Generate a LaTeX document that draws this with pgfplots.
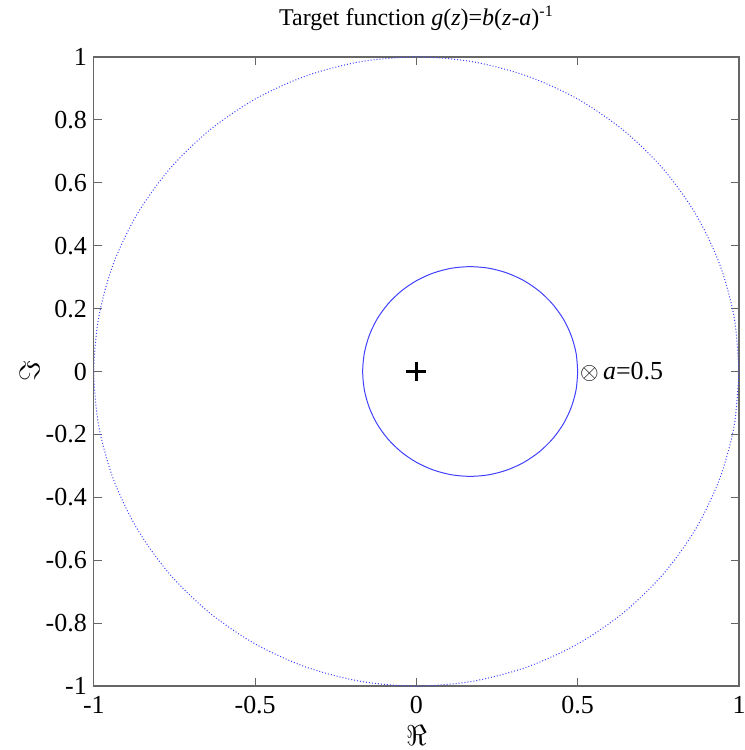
\documentclass[border=0pt]{standalone}
\usepackage{pgfplots}
\pgfplotsset{compat=1.18}
\usepackage{fontspec}
\setmainfont{Liberation Serif}
\begin{document}
\begin{tikzpicture}
\begin{axis}[
  scale only axis,
  width=323pt, height=315pt,
  xmin=-1, xmax=1, ymin=-1, ymax=1,
  xtick={-1,-0.5,0,0.5,1},
  ytick={-1,-0.8,-0.6,-0.4,-0.2,0,0.2,0.4,0.6,0.8,1},
  tick align=inside,
  tick pos=both,
  major tick length=4pt,
  axis line style={black!60, line width=0.6pt},
  tick style={black!60, line width=0.5pt},
  /pgf/number format/assume math mode=true,
  xticklabel={\pgfmathprintnumber{\tick}},
  yticklabel={\pgfmathprintnumber{\tick}},
  ticklabel style={font=\fontsize{13}{15}\selectfont},
  xticklabel style={yshift=-4pt, inner sep=1pt},
  title style={font=\fontsize{12}{14}\selectfont, at={(axis description cs:0.5,1)}, anchor=center, yshift=13.5pt},
  title={Target function \textit{g}(\textit{z})=\textit{b}(\textit{z}-\textit{a})\textsuperscript{-1}},
  xlabel={$\Re$}, ylabel={$\Im$},
  label style={font=\fontsize{15}{17}\selectfont, inner sep=0.5pt},
  ylabel style={at={(axis description cs:-0.0994,0.5)}, anchor=center},
  xlabel style={at={(axis description cs:0.5,0)}, anchor=center, yshift=-24.5pt},
]
% outer circle, radius 1 (dotted)
\addplot[blue!75, densely dotted, line width=0.5pt, smooth] coordinates {
(1,0) (0.9848,0.1736) (0.9397,0.3420) (0.8660,0.5) (0.7660,0.6428) (0.6428,0.7660) (0.5,0.8660) (0.3420,0.9397) (0.1736,0.9848) (0,1)
(-0.1736,0.9848) (-0.3420,0.9397) (-0.5,0.8660) (-0.6428,0.7660) (-0.7660,0.6428) (-0.8660,0.5) (-0.9397,0.3420) (-0.9848,0.1736) (-1,0)
(-0.9848,-0.1736) (-0.9397,-0.3420) (-0.8660,-0.5) (-0.7660,-0.6428) (-0.6428,-0.7660) (-0.5,-0.8660) (-0.3420,-0.9397) (-0.1736,-0.9848) (0,-1)
(0.1736,-0.9848) (0.3420,-0.9397) (0.5,-0.8660) (0.6428,-0.7660) (0.7660,-0.6428) (0.8660,-0.5) (0.9397,-0.3420) (0.9848,-0.1736) (1,0)
};
% inner circle, centre 1/6, radius 1/3
\addplot[blue!75, line width=0.5pt, smooth] coordinates {
(0.5,0) (0.4950,0.0579) (0.4799,0.1140) (0.4554,0.1667) (0.4220,0.2143) (0.3810,0.2553) (0.3333,0.2887) (0.2807,0.3132) (0.2246,0.3283) (0.1667,0.3333)
(0.1088,0.3283) (0.0527,0.3132) (0.0,0.2887) (-0.0476,0.2553) (-0.0886,0.2143) (-0.1220,0.1667) (-0.1465,0.1140) (-0.1616,0.0579) (-0.1667,0)
(-0.1616,-0.0579) (-0.1465,-0.1140) (-0.1220,-0.1667) (-0.0886,-0.2143) (-0.0476,-0.2553) (0.0,-0.2887) (0.0527,-0.3132) (0.1088,-0.3283) (0.1667,-0.3333)
(0.2246,-0.3283) (0.2807,-0.3132) (0.3333,-0.2887) (0.3810,-0.2553) (0.4220,-0.2143) (0.4554,-0.1667) (0.4799,-0.1140) (0.4950,-0.0579) (0.5,0)
};
% centre marker
\addplot[only marks, mark=+, mark size=5pt, black, line width=1.6pt] coordinates {(0,0)};
\node[anchor=west, inner sep=1pt, font=\fontsize{13}{15}\selectfont] at (axis cs:0.5,0) {$\otimes$\,\textit{a}=0.5};
\end{axis}
\pgfresetboundingbox
\path ([shift={(-47pt,-32pt)}]current axis.south west) rectangle ([shift={(3pt,28.5pt)}]current axis.north east);
\end{tikzpicture}
\end{document}
